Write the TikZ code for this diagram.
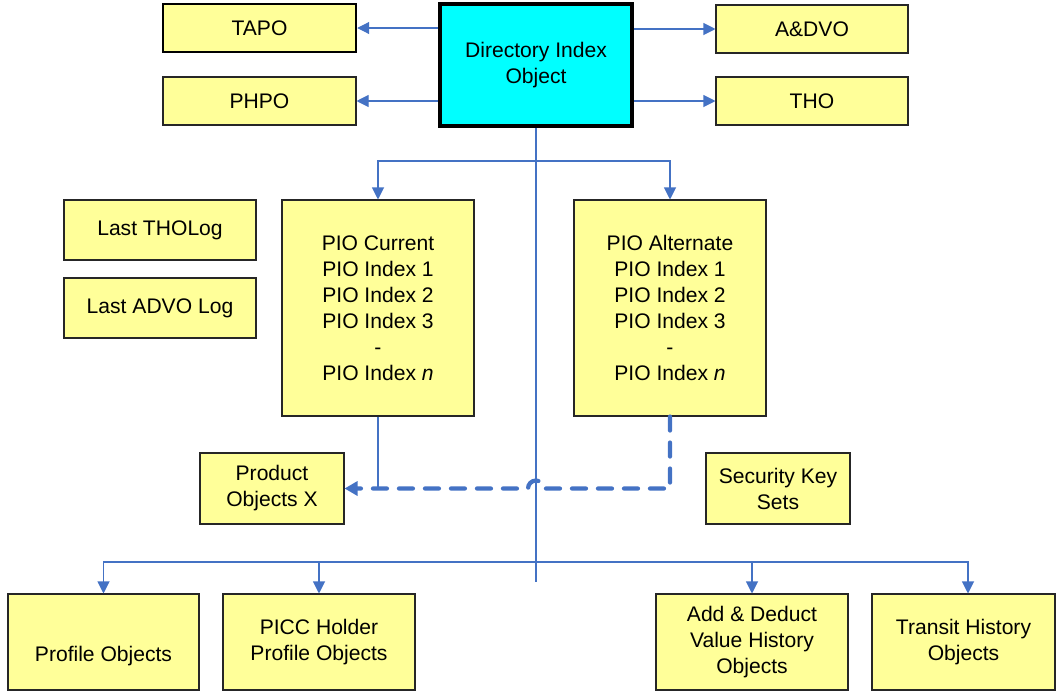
\documentclass[tikz,border=0pt]{standalone}
\usepackage{fontspec}
\setmainfont{Liberation Sans}
\usetikzlibrary{positioning, arrows.meta}
\definecolor{boxyellow}{HTML}{FFFF99}
\definecolor{boxcyan}{HTML}{00FFFF}
\definecolor{linkblue}{HTML}{4472C4}

\begin{document}
\begin{tikzpicture}[on grid, font=\fontsize{12}{14.8}\selectfont,
    obj/.style={draw=black!85, fill=boxyellow, line width=0.6pt, inner sep=0pt, align=center, minimum width=3.84cm},
    link/.style={draw=linkblue, line width=0.6pt, -{Triangle[length=0.24cm, width=0.24cm]}},
    plain/.style={draw=linkblue, line width=0.6pt},
    dashlink/.style={draw=linkblue, line width=2.4pt, line cap=round, dash pattern=on 0.28cm off 0.24cm, -{Triangle[length=0.26cm, width=0.28cm]}}]
      \useasboundingbox (0,0) rectangle (21.12,-13.82);
      \node[obj, draw=black, line width=2.2pt, fill=boxcyan, minimum height=2.44cm] (dio) at (10.72,-1.30) {Directory Index\\Object};
      \node[obj, draw=black, line width=1.4pt, minimum width=3.86cm, minimum height=0.96cm] (tapo) at (5.19,-0.56) {TAPO};
      \node[obj, minimum width=3.86cm, minimum height=0.96cm, below=1.46cm of tapo] (phpo) {PHPO};
      \node[obj, minimum height=0.96cm] (advo) at (16.24,-0.58) {A\&DVO};
      \node[obj, minimum height=0.96cm, below=1.44cm of advo] (tho) {THO};
      \node[obj, minimum height=4.32cm] (pioc) at (7.56,-6.16) {PIO Current\\PIO Index 1\\PIO Index 2\\PIO Index 3\\-\\PIO Index \textit{n}};
      \node[obj, minimum height=4.32cm, right=5.84cm of pioc] (pioa) {PIO Alternate\\PIO Index 1\\PIO Index 2\\PIO Index 3\\-\\PIO Index \textit{n}};
      \node[obj, minimum height=1.2cm] (tholog) at (3.20,-4.60) {Last THOLog};
      \node[obj, minimum height=1.2cm, below=1.56cm of tholog] (advolog) {Last ADVO Log};
      \node[obj, minimum width=2.88cm, minimum height=1.42cm] (prod) at (5.44,-9.77) {Product\\Objects X};
      \node[obj, minimum width=2.88cm, minimum height=1.42cm] (seckey) at (15.56,-9.77) {Security Key\\Sets};
      \node[obj, minimum width=3.82cm, minimum height=1.92cm] (prof) at (2.07,-12.84) {\strut\\Profile Objects};
      \node[obj, minimum height=1.92cm, right=4.31cm of prof] (picc) {PICC Holder\\Profile Objects};
      \node[obj, minimum height=1.92cm] (adhist) at (15.04,-12.84) {Add \& Deduct\\Value History\\Objects};
      \node[obj, minimum width=3.66cm, minimum height=1.92cm, right=4.23cm of adhist] (trhist) {Transit History\\Objects};
      \coordinate (fork) at (dio.south |- 0,-3.22);
      \coordinate (split) at (dio.south |- 0,-11.24);
      \coordinate (stem) at (dio.south |- 0,-11.64);
      \coordinate (hop) at (dio.south |- prod.east);
      \draw[link] (dio.west |- tapo.east) -- (tapo.east);
      \draw[link] (dio.west |- phpo.east) -- (phpo.east);
      \draw[link] (dio.east |- advo.west) -- (advo.west);
      \draw[link] (dio.east |- tho.west) -- (tho.west);
      \draw[plain] (dio.south) -- (stem);
      \draw[link] (fork) -| (pioc);
      \draw[link] (fork) -| (pioa);
      \draw[link] (split) -| (prof);
      \draw[link] (split) -| (picc);
      \draw[link] (split) -| (adhist);
      \draw[link] (split) -| ([xshift=0.09cm]trhist.north);
      \draw[plain] (pioc.south) -- (pioc.south |- prod.east);
      \draw[dashlink] (pioa.south) -- (pioa.south |- prod.east) -- ([xshift=0.16cm]hop)
        arc[start angle=0, end angle=180, radius=0.16cm] -- (prod.east);
    \end{tikzpicture}
\end{document}
